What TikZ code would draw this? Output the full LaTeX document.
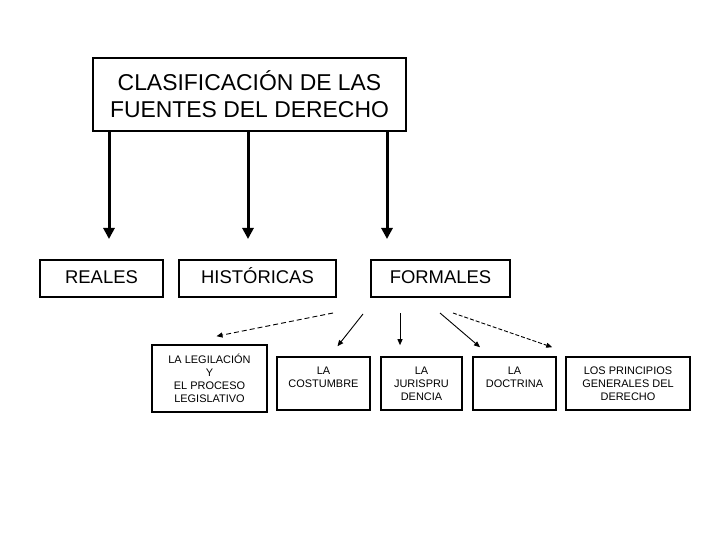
\documentclass[tikz,border=0pt]{standalone}
\usepackage{fontspec}
\setmainfont{Liberation Sans}
\usetikzlibrary{arrows.meta, positioning, calc}

\tikzset{
  titlebox/.style={draw, line width=2.2bp, minimum width=313bp, minimum height=73bp, inner sep=0pt, align=center, font=\fontsize{23}{27}\selectfont},
  kindbox/.style={draw, line width=2bp, minimum height=37bp, inner sep=0pt, text height=14bp, text depth=4bp, font=\fontsize{18.5}{22}\selectfont},
  sourcebox/.style={draw, line width=1.6bp, minimum height=53bp, inner sep=0pt, align=center, font=\fontsize{11}{13}\selectfont},
  mainarrow/.style={line width=3bp, -{Triangle[length=11bp,width=11bp]}},
  subarrow/.style={line width=0.9bp, -{Triangle[length=6bp,width=5bp]}}
}

\begin{document}
\begin{tikzpicture}[x=1bp, y=-1bp]
  \useasboundingbox (0,0) rectangle (720,540);

  % Title box
  \node[titlebox] (title) at (249.5,94.5) {CLASIFICACIÓN DE LAS\\FUENTES DEL DERECHO};

  % Three kinds of sources
  \node[kindbox, minimum width=123bp] (reales) at (101.5,278.5) {REALES};
  \node[kindbox, minimum width=157bp] (historicas) at (257.5,278.5) {HISTÓRICAS};
  \node[kindbox, minimum width=139bp] (formales) at (440.5,278.5) {FORMALES};

  % Formal sources
  \node[sourcebox, minimum width=115bp, minimum height=67bp] (legislacion) at (209.5,378.5) {LA LEGILACIÓN\\Y\\EL PROCESO\\LEGISLATIVO};
  \node[sourcebox, minimum width=93bp] (costumbre) at (323.5,383.5) {LA\\COSTUMBRE\\\phantom{X}};
  \node[sourcebox, minimum width=81bp] (juris) at (421.5,383.5) {LA\\JURISPRU\\DENCIA};
  \node[sourcebox, minimum width=83bp] (doctrina) at (514.5,383.5) {LA\\DOCTRINA\\\phantom{X}};
  \node[sourcebox, minimum width=124bp] (principios) at (628,383.5) {LOS PRINCIPIOS\\GENERALES DEL\\DERECHO};

  % Arrows from the title
  \coordinate (a1) at (109,0);
  \coordinate (a2) at (248,0);
  \coordinate (a3) at (387,0);
  \draw[mainarrow, shorten >=20bp] (title.south -| a1) -- (reales.north -| a1);
  \draw[mainarrow, shorten >=20bp] (title.south -| a2) -- (historicas.north -| a2);
  \draw[mainarrow, shorten >=20bp] (title.south -| a3) -- (formales.north -| a3);

  % Fan of arrows below FORMALES
  \coordinate (f1) at (333,313);
  \coordinate (f2) at (363,314);
  \coordinate (f3) at (400,313);
  \coordinate (f4) at (440,313);
  \coordinate (f5) at (453,313);
  \draw[subarrow, dash pattern=on 5bp off 3bp] (f1) -- ([xshift=7bp,yshift=8bp]legislacion.north);
  \draw[subarrow] (f2) -- ([xshift=14bp,yshift=10bp]costumbre.north);
  \draw[subarrow, shorten >=11bp] (f3) -- (f3 |- juris.north);
  \draw[subarrow] (f4) -- ([xshift=-34.5bp,yshift=9bp]doctrina.north);
  \draw[subarrow, dash pattern=on 4bp off 2bp] (f5) -- ([xshift=-13bp,yshift=9bp]principios.north west);
\end{tikzpicture}
\end{document}
